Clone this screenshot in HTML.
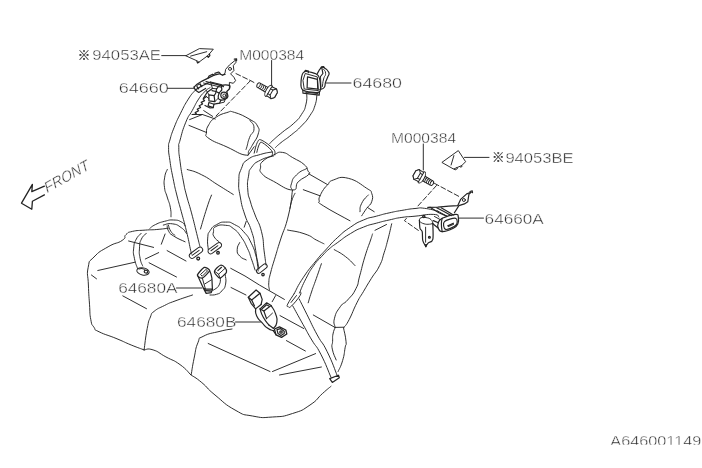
<!DOCTYPE html>
<html lang="en">
<head>
<meta charset="utf-8">
<title>Rear seat belt diagram A646001149</title>
<style>
html,body{margin:0;padding:0;background:#fff;}
body{width:702px;height:468px;overflow:hidden;font-family:"Liberation Sans",sans-serif;}
svg{display:block;filter:grayscale(1);}
svg path,svg line,svg circle,svg ellipse,svg polygon,svg polyline,svg rect.o{fill:none;stroke:#242424;stroke-width:.95;stroke-linecap:round;stroke-linejoin:round;}
svg .w{fill:#fff;}
svg .d{stroke-dasharray:5 2.5;}
svg .h{stroke-width:1.2;}
svg .k{stroke-width:1.3;stroke:#222;}
svg .t{stroke-width:.7;stroke:#444;}
svg text{font-family:"Liberation Sans",sans-serif;font-size:14px;fill:#2c2c2c;stroke:#fff;stroke-width:.4px;}
</style>
</head>
<body>
<svg width="702" height="468" viewBox="0 0 702 468">
<rect x="0" y="0" width="702" height="468" fill="#fff" stroke="none"/>
<text x="77.8" y="60.3" style="font-family:'Liberation Sans','Noto Sans CJK JP',sans-serif;font-size:12.5px;stroke:#3a3a3a;stroke-width:.25px;fill:#3a3a3a">※</text>
<text x="92.3" y="60.2" textLength="68.7" lengthAdjust="spacingAndGlyphs">94053AE</text>
<text x="118.8" y="93" textLength="50" lengthAdjust="spacingAndGlyphs">64660</text>
<text x="239.2" y="59.8" textLength="65" lengthAdjust="spacingAndGlyphs">M000384</text>
<text x="352.5" y="88.2" textLength="49.5" lengthAdjust="spacingAndGlyphs">64680</text>
<text x="391" y="142.7" textLength="65.1" lengthAdjust="spacingAndGlyphs">M000384</text>
<text x="492" y="162.3" style="font-family:'Liberation Sans','Noto Sans CJK JP',sans-serif;font-size:12.5px;stroke:#3a3a3a;stroke-width:.25px;fill:#3a3a3a">※</text>
<text x="505.4" y="162.5" textLength="68.3" lengthAdjust="spacingAndGlyphs">94053BE</text>
<text x="484.6" y="223.5" textLength="59.2" lengthAdjust="spacingAndGlyphs">64660A</text>
<text x="118.2" y="293.3" textLength="59.3" lengthAdjust="spacingAndGlyphs">64680A</text>
<text x="177" y="327.3" textLength="59.4" lengthAdjust="spacingAndGlyphs">64680B</text>
<clipPath id="c"><rect x="600" y="420" width="102" height="24.6"/></clipPath>
<text x="610.3" y="446.2" textLength="91" lengthAdjust="spacingAndGlyphs" clip-path="url(#c)">A646001149</text>
<g transform="translate(46.6 193.4) rotate(-29.2) skewX(-14)"><text x="0" y="0" style="font-size:15px" textLength="49.5" lengthAdjust="spacingAndGlyphs">FRONT</text></g>
<path class="k" d="M44.4 186.2L31.8 191.7L32.4 184.4L21.5 203.2L31.8 209.2L32.4 201.3L44.4 194.9"/>
<path d="M161.7 55.6L186 55.6"/>
<path d="M167.5 88.3L194 88.3"/>
<path d="M271.6 60.5L271.6 86.2"/>
<path d="M326.3 83L351 83"/>
<path d="M423.3 144L423.3 170"/>
<path d="M464.5 157.4L489 157.4"/>
<path d="M458.5 218.1L483.5 218.1"/>
<path d="M176.5 288L201.7 288"/>
<path d="M235.5 322L260.5 322"/>
<path d="M186.1 55.6L199.4 48.6L213.3 49.2L209.4 53.9L207.2 56.1L198.9 62.2L197.6 61.2Z"/>
<path d="M190.6 56.1L206.7 51.7"/>
<path class="h" d="M207.2 56.1L208.3 57.3L209.9 55.7L209.4 53.9"/>
<path class="h" d="M198.9 62.2L197.6 63L196.9 61.6"/>
<path d="M442.2 162.2L458.3 150.6L465.6 161.7L461.7 165.6L453.9 168.9Z"/>
<path d="M453.9 155.6L451.1 165"/>
<path d="M453.9 168.9L455 170L457.5 168.6L456.8 167.7"/>
<path d="M459.8 166.4L460.6 167.3L462.3 166.2L461.7 165.6"/>
<g transform="translate(271.8 92.7) rotate(29.7) scale(1 1)"><path class="w" d="M-16 -2.4L-5 -2.7L-5 2.7L-16 2.4Q-17.6 0 -16 -2.4Z"/><path d="M-14.4 -2.6Q-13 0 -14.4 2.6"/><path d="M-12.4 -2.6Q-11 0 -12.4 2.6"/><path d="M-10.4 -2.6Q-9 0 -10.4 2.6"/><path d="M-8.4 -2.6Q-7 0 -8.4 2.6"/><path d="M-6.4 -2.6Q-5 0 -6.4 2.6"/><ellipse class="w" cx="-3.6" cy="0" rx="2.6" ry="6.3"/><path class="w" d="M-3 -5.2L2.4 -5.6L4.9 -2.9L4.9 2.9L2.4 5.6L-3 5.2Z"/><path class="w" d="M2.2 -5.6L4.7 -2.9L4.7 2.9L2.2 5.6L-.3 2.9L-.3 -2.9Z"/><path d="M-3 -2.7L-.3 -2.9M-3 2.7L-.3 2.9"/></g>
<g transform="translate(418.6 175.6) rotate(29.7) scale(-1 1)"><path class="w" d="M-16 -2.4L-5 -2.7L-5 2.7L-16 2.4Q-17.6 0 -16 -2.4Z"/><path d="M-14.4 -2.6Q-13 0 -14.4 2.6"/><path d="M-12.4 -2.6Q-11 0 -12.4 2.6"/><path d="M-10.4 -2.6Q-9 0 -10.4 2.6"/><path d="M-8.4 -2.6Q-7 0 -8.4 2.6"/><path d="M-6.4 -2.6Q-5 0 -6.4 2.6"/><ellipse class="w" cx="-3.6" cy="0" rx="2.6" ry="6.3"/><path class="w" d="M-3 -5.2L2.4 -5.6L4.9 -2.9L4.9 2.9L2.4 5.6L-3 5.2Z"/><path class="w" d="M2.2 -5.6L4.7 -2.9L4.7 2.9L2.2 5.6L-.3 2.9L-.3 -2.9Z"/><path d="M-3 -2.7L-.3 -2.9M-3 2.7L-.3 2.9"/></g>
<path class="d" d="M236 73.6L250.5 80.6L256 83.6"/>
<path class="d" d="M250.5 80.6L216 116"/>
<path class="d" d="M434.4 183.3L460 197"/>
<path class="d" d="M436.5 185.5L417.2 206.8"/>
<path class="d" d="M406.4 218.4L404.4 220.6L418.5 230.5"/>
<path d="M206.5 132.4C206.4 128.7 206.5 128.6 208.8 124.7C211.1 120.8 210.5 120.9 215.3 117.7C220.1 114.5 221.7 114 226.8 112.6C231.9 111.2 228.3 110.6 234.5 112.4C240.7 114.2 243.9 115.9 250 119.5C256.1 123.1 255.3 122.1 257.5 126C259.7 129.9 259.4 129.2 258.2 134C257 138.8 255.5 139.6 253 144C250.5 148.4 251.1 147.6 249 150.5C246.9 153.4 250.9 155.9 245 155C239.1 154.1 236.6 151.4 227 147C217.4 142.6 214.5 142.4 209 138.5C203.5 134.6 206.6 136.1 206.5 132.4Z"/>
<path d="M250 120.5C251.3 123.2 254.1 122.9 254 128.5C253.9 134.1 251.9 131.4 249.6 137.4C247.3 143.4 248.2 142.4 247 146.4C245.8 150.4 246.3 148.5 246 149.5"/>
<path d="M189.6 119.6L202.4 114.5L215.3 119"/>
<path d="M189 125.4L206.3 132.4"/>
<path d="M262.6 161.4C266 158.1 268.2 157.4 273.5 155C278.8 152.6 277.3 151.7 282.4 152.4C287.5 153.1 286.9 154.3 292.7 157.6C298.5 160.9 300.1 161 304.2 164.6C308.3 168.2 306.8 168.4 308 171C309.2 173.6 311.3 171.6 308.7 174.5C306.1 177.4 302.6 177.6 298.3 181.7C294 185.8 299.1 190.1 292.5 190C285.9 189.9 281.7 185.7 273.5 181.3C265.3 176.9 265.3 177.4 261.9 173.6C258.5 169.8 260.4 170.5 260.6 167.2C260.8 163.9 259.2 164.7 262.6 161.4Z"/>
<path d="M306.8 168.5C303.4 170.6 301.6 169.8 296.5 174.9C291.4 180 293 179.1 291.4 183.8C289.8 188.5 291.5 187.3 291.6 189"/>
<path d="M254.2 146.7L247.8 155.6"/>
<path d="M308.7 173.8L327.5 184.6"/>
<path d="M303.3 189.7L320 195.8"/>
<path d="M295 193.3C294 195.5 293.7 195 292 200C290.3 205 290.7 205.5 290 208.3"/>
<path d="M320 195.8C320.9 194.1 321.5 192.4 323.5 189.5C325.5 186.6 324.9 187.5 327.5 185C330.1 182.5 327.8 181.8 333.3 180C338.8 178.2 339.4 176.1 348.3 178.3C357.2 180.5 360.5 184.3 366.7 188.3C372.9 192.3 370.4 189.7 371.7 193.3C373 196.9 373 197.7 371.7 201.7C370.4 205.7 369.4 204.5 366.7 208.3C364 212.1 363 213.8 361.7 215.8"/>
<path d="M320 195.8C319.8 197.1 318.3 198.1 319.2 200.8C320.1 203.5 315.1 200.5 323.3 205.8C331.5 211.1 342.9 216.8 350 220.8"/>
<path d="M368.3 195C366.1 197.8 364.5 197.7 361.7 203.3C358.9 208.9 360.6 208.9 360 211.7"/>
<path d="M367.5 207.5L374.2 211.7"/>
<path d="M167.3 169.5C166.5 171.8 165.5 171.8 164.7 177.2C163.9 182.6 163.8 181.5 164.5 187.4C165.2 193.3 165.4 190.9 167.2 197C169 203.1 169.3 201.9 170.4 207.8C171.5 213.7 170.8 214.1 171 216.8"/>
<path d="M168.3 225C169.2 227.1 168.7 228 170.9 231.4C173.1 234.8 173.6 234 175 235.3"/>
<path d="M187.2 169.5C191.4 171 192.1 170 201.3 174.6C210.5 179.2 208.3 178.9 217.9 184.9C227.5 190.9 228.7 191.6 233.3 194.5"/>
<path d="M211.5 195.1C210.1 198.9 210.2 197.6 206.9 207.8C203.6 218 202.4 222.6 200.5 229"/>
<path d="M292.5 190C291.3 197.5 292.1 200 288.5 215C284.9 230 284.4 227.5 280.4 240C276.4 252.5 278.2 247.1 275.3 256.7C272.4 266.3 272.8 264.3 270.8 272C268.9 279.7 269.2 276.9 268.8 282.3C268.4 287.7 269.3 287.7 269.5 290"/>
<path d="M287.5 230C292.8 231.2 296.4 231 305 234C313.6 237 310.6 237.1 316.3 240C322 242.9 321.7 242.7 324 243.8"/>
<path d="M334.2 249.6C337.6 251.7 339.4 251.9 345.6 256.7C351.8 261.5 352.2 262.9 355 265.6"/>
<path d="M391.7 223.8C390.5 228.6 390.1 231.2 387.8 239.9C385.5 248.6 386.6 245.1 384.1 252.8C381.6 260.5 383.4 257.9 379.6 265.6C375.8 273.3 376.1 270.8 371.3 278.5C366.5 286.2 367.9 284 363.6 291.3C359.3 298.6 361.2 294.3 356.9 302.8C352.6 311.3 353 312.2 349.2 319.5C345.4 326.8 345.6 324.9 344.1 327.2"/>
<path d="M372.5 234C371.9 235.8 372.9 233.2 370.6 240C368.3 246.8 368.2 245.9 364.9 256.7C361.6 267.5 362.4 266.3 359.7 275.9C357 285.5 359.5 281.5 355.9 288.7C352.3 295.9 352.3 294.6 347.6 300C342.9 305.4 344.2 301.2 340.3 306.7C336.4 312.2 336.1 312.1 334.5 318.2C332.9 324.3 334.9 324.5 335.1 327.2"/>
<path d="M375 230.3L386.5 224.5"/>
<path d="M321.4 263.7C319.7 268.6 319.6 269.1 316.3 278.5C313 287.9 314.2 283.9 311.5 292C308.8 300.1 309.3 299.2 308.2 302.8"/>
<path d="M335.1 327.4L344.1 327.2"/>
<path d="M335.1 327.5C334.5 329.4 333.8 329.9 333 334C332.2 338.1 332.8 336.8 332.6 341.3C332.4 345.8 331.2 343.5 332.3 349.1C333.4 354.7 335 356.7 336.2 360"/>
<path d="M343.5 327.8C344.2 331.9 345.5 335.3 346 341.3C346.5 347.3 346.1 342 345.1 347.8C344.1 353.6 344.7 353.5 342.6 360.6C340.5 367.7 339.5 368.2 338.1 371.5"/>
<path d="M313.3 315L335.1 327.5"/>
<path d="M168.3 228.2C164.9 228.6 163.7 228.9 156.8 229.5C149.9 230.1 152.6 229.5 145.3 230.1C138 230.7 138.2 230.1 132.4 231.4C126.6 232.8 129.1 231.9 126 234.6C122.9 237.3 127.6 236.7 122.2 240.4C116.8 244.1 116.6 241.8 108.1 246.8C99.6 251.8 100 250.8 94 257C88 263.1 89.9 258.9 88.2 267.3C86.5 275.7 88 273.9 88.4 285C88.8 296.1 88.8 293.8 89.5 304.2C90.2 314.6 89.5 312.7 90.8 319.6C92.1 326.5 91.5 323.6 94 327.3C96.5 331 92.2 328.4 99.1 331.8C106 335.2 107.4 334.8 117 338.8C126.6 342.8 123.1 341.7 131.2 345C139.3 348.3 140.2 348.4 144.1 349.9"/>
<path d="M144.1 349.9C146.8 349.9 146.6 347.8 153.1 349.9C159.6 352 157.8 352.5 165.9 356.9C174 361.3 172.5 359.2 180 364.6C187.5 370 187.6 371.8 190.9 374.9"/>
<path d="M190.9 374.9C194.2 377.2 194.6 376.6 201.8 382.6C209 388.6 205 386.8 215 395C225 403.2 223.8 403.7 235 410C246.2 416.3 241.2 413.9 252.5 416C263.8 418.1 260.5 417.8 272.5 417C284.5 416.2 281.2 417.1 292.5 413.5C303.8 409.9 301 411 310 405C319 399 316.2 399.1 322.5 393.5C328.8 387.9 328.4 388.5 331 386.3"/>
<path d="M149.9 228.3C151.6 227.2 151.2 226.6 155.6 224.5C160 222.4 159.2 222.7 164.6 221.3C170 220 168.6 219.8 173.6 220C178.6 220.2 177.9 220.2 181.3 221.9C184.8 223.6 184 224.6 185.1 225.8"/>
<path d="M163.3 225.1C166 224.7 166.9 223 172.3 223.8C177.7 224.6 177.1 224.8 181.3 227.7C185.5 230.6 184.9 231.8 186.4 233.5"/>
<path d="M167.2 225.8C167.6 227.3 166.6 227.8 168.5 230.9C170.4 234 168.6 232.7 173.6 236C178.6 239.3 181.7 240.1 185.1 241.8"/>
<path d="M144.1 349.9C145 343.5 145.3 338.5 147.2 328.6C149.1 318.7 148.3 322.2 150.4 317C152.5 311.8 150 314.8 154.2 311.3C158.4 307.9 158.3 308.6 164.5 305.5C170.7 302.4 166.6 304.1 175 301C183.4 297.9 187.2 296.8 192.5 295"/>
<path d="M191.2 374.6C192.1 369.7 192.1 367.7 194.1 358.2C196.1 348.7 195.2 349.3 197.9 342.8C200.6 336.3 196.5 339.8 203.1 336.4C209.7 332.9 211.3 333.5 220 331.3C228.7 329.1 228.4 329.7 232 329"/>
<path d="M122.8 295.9L146.5 308.7"/>
<path d="M97.8 270.5L135 262.2"/>
<path d="M128.6 241L153.6 247.4"/>
<path d="M145.3 259L158.7 252.6"/>
<path d="M149.1 262.8L176.5 277"/>
<path d="M167.1 250.6L186 261"/>
<path d="M165.1 234L161.3 244.2"/>
<path d="M91.4 275L96.5 278.8"/>
<path d="M208.2 343.5L270 371.5"/>
<path d="M272.5 371.5L315.6 353.6"/>
<path d="M279.5 375L321.4 367"/>
<path d="M231 287.5L246 295"/>
<path d="M280 315.6L303.7 328.5"/>
<path d="M286.4 340.6L305.4 351"/>
<path d="M246.2 221.4L244.2 227.2"/>
<path d="M230.7 268.3L245 276L259.4 285L284.4 299.4"/>
<path d="M275.6 295.6L272.2 301.7"/>
<path d="M239.7 242.6C238.9 244.7 237.2 245.6 237.2 249.6C237.2 253.6 237 252.9 239.7 256C242.4 259.1 244.2 258.7 246.2 259.9"/>
<path d="M194.7 90.8C192.8 93.3 192.5 92.4 188.3 99.1C184.1 105.8 184.8 104.7 180.6 113.2C176.4 121.7 177.4 119.3 174.2 127.3C171 135.3 171.6 133.9 169.9 140C168.2 146.1 168.6 141.5 168.6 147.7C168.6 153.8 168.6 151.3 169.9 160.5C171.2 169.7 171 168.2 173.1 178.5C175.2 188.8 174.3 185 176.8 195C179.3 205 178.4 200.9 181.3 211.7C184.2 222.5 183.7 219.8 186.4 230.9C189.1 242 188.8 241.9 190.3 248.8C191.8 255.7 191.1 252.4 191.5 254"/>
<path d="M210.1 87.6C208.6 88.7 208.4 88 205 91.4C201.6 94.9 202.4 93.3 198.6 99.1C194.8 104.9 196 103.7 192.2 110.6C188.4 117.5 189.4 113.4 185.8 122.2C182.2 131 182.2 132.3 180.1 140C178 147.7 178.8 141.2 178.8 147.7C178.8 154.2 178.8 151.8 180.1 161.8C181.4 171.8 181.4 171 183.3 181C185.2 191 183.9 185.4 186.4 195C188.9 204.6 188.4 201.3 191.5 212.9C194.6 224.5 194.2 223.5 196.7 233.5C199.2 243.5 198.9 242.5 199.9 246.3"/>
<g transform="translate(196 252.8) rotate(-36)"><rect class="o w" x="-7.6" y="-2.7" width="15.2" height="5.4" rx="2.7"/><path d="M-4.6 -.2L4 -.2"/></g>
<circle class="k" cx="198.2" cy="258.6" r="1.4"/>
<path d="M306.7 92.6C306.5 96 307.6 97.6 306 104.1C304.4 110.6 305.2 108.6 301.5 114.4C297.8 120.2 299.6 117.9 293.8 123.3C288 128.7 288.4 127.3 282.3 132.3C276.2 137.3 277.1 136.6 273.3 140C269.5 143.4 270.6 142.7 269.5 143.8"/>
<path d="M316.9 95.1C316.3 98.2 317.1 99.2 315 105.4C312.9 111.6 313.9 109.4 309.9 115.6C305.8 121.8 307.1 120.1 301.5 125.9C295.9 131.7 297.4 129.9 291.3 134.9C285.2 139.9 285.7 138.8 281 142.6C276.3 146.4 277.1 146 275.5 147.5"/>
<path d="M254.2 153.1C254.8 150.9 255.9 144.8 257.4 142.2C258.9 139.6 258.7 138.9 261.9 140.3C265.1 141.7 270.9 146.3 273.5 149.2C276.1 152.1 274.5 153.8 274.7 155"/>
<path d="M256.8 152.4C257.3 150.7 258.2 146 259.4 144.1C260.6 142.2 260.2 141.5 262.6 142.8C265 144.1 269.6 148.1 271.5 150.5C273.4 152.9 272.1 154.1 272.2 155"/>
<path d="M272 152C268.6 152.7 267.9 152.2 260.6 154.4C253.3 156.7 253.6 155.3 247.8 159.5C242 163.7 244.1 162 241.4 168.5C238.7 175 239.1 172.8 238.8 181.3C238.5 189.9 238.5 186.9 240.3 197C242.1 207.1 241.6 205 244.9 215C248.2 225 248.2 220.8 251.3 230.4C254.4 240 253.2 236.2 255.1 247C257 257.8 256.8 259.1 257.7 266.3C258.6 273.5 257.9 269.6 258 271"/>
<path d="M273.5 156C269.6 157.2 267.1 156.7 260.6 160.1C254.1 163.5 255.3 162.4 251.7 167.2C248.1 172 249.7 169.4 248.5 176.2C247.3 183 247.2 182.3 247.8 190C248.4 197.7 248.3 194.5 250.5 202C252.7 209.5 251.8 206.1 255.1 215C258.4 223.9 258.8 220.9 261.5 231.7C264.2 242.5 262.8 240.9 264.1 250.9C265.5 260.9 265.4 260.8 266 265"/>
<g transform="translate(261.8 268.6) rotate(-38)"><rect class="o w" x="-6.2" y="-2.2" width="12.4" height="4.4" rx="2.2"/></g>
<circle class="k" cx="263" cy="274.6" r="1.2"/>
<path d="M141.4 233.3C139.9 235 138.6 234.7 136.3 239.1C134 243.5 134.3 242.3 133.7 248.1C133.1 253.9 133.2 252.2 134.4 258.3C135.6 264.5 136.6 265.5 137.6 268.6"/>
<path d="M146.5 233.3C145 235 143.5 234.7 141.4 239.1C139.3 243.5 139.9 242.3 139.5 248.1C139.1 253.9 139.1 252.9 140.1 258.3C141.1 263.7 141.9 263.7 142.7 266"/>
<g transform="translate(143 271.4) rotate(12)"><ellipse class="w" cx="0" cy="0" rx="6.3" ry="3.6"/><ellipse class="h" cx="3" cy="-.4" rx="1.8" ry="1.4"/><path d="M-4.5 -1.5Q-2 -3 1 -2.4"/></g>
<path d="M208.3 249.6C208.1 246.2 207.1 243.9 207.7 238.1C208.3 232.3 207.6 234.5 210.3 230.4C213 226.3 212.1 227.1 216.7 224.6C221.3 222.1 220.2 222.1 225.6 222.1C231 222.1 229.2 221.7 234.6 224.6C240 227.5 238.6 226.1 243.6 231.7C248.6 237.3 247.5 235.5 251.3 243.2C255.1 250.9 254.1 249.6 256.4 257.3C258.7 265 258.2 265.4 259 268.8"/>
<path d="M219.2 241.9C217.7 240.4 215.8 239.9 214.1 236.8C212.4 233.7 213 234.8 213.5 231.7C214 228.6 212.2 228.5 215.8 226.6C219.4 224.7 220.3 224.7 225.6 225.3C230.8 225.9 228.7 225.1 233.3 228.5C237.9 231.9 236.8 230.9 241 236.8C245.2 242.7 244.3 241.8 247.4 248.3C250.5 254.8 249 252.1 251.3 258.6C253.6 265.1 254 266.7 255.1 270.1"/>
<g transform="translate(214.8 248.2) rotate(-36)"><rect class="o w" x="-7.8" y="-2.6" width="15.6" height="5.2" rx="2.6"/><path d="M-4.6 -.2L4 -.2"/></g>
<circle class="k" cx="218" cy="252.8" r="1.3"/>
<path d="M437.8 211.1C433.8 210.3 431.2 209.1 424.4 208.3C417.6 207.5 421.8 207.9 415 208.5C408.2 209.1 409.7 209.1 401.9 210.4C394.1 211.7 396.8 211.2 389.1 212.9C381.4 214.6 384 214.1 376.3 216.2C368.6 218.3 371.2 216.7 363.5 220C355.8 223.3 358.3 221.9 350.6 227.1C342.9 232.3 345 230.7 337.8 237.3C330.6 243.9 332.9 242 326.5 249C320.1 256 323.2 252 316.3 260.5C309.4 269 310.2 267.2 303.5 277.2C296.8 287.2 296.9 288.8 294.1 293.8"/>
<path d="M438.9 217.2C437.2 216.4 440.5 214.7 433.3 214.4C426.1 214.1 424.4 215.3 415 216.2C405.6 217.1 409.7 216.3 401.9 217.4C394.1 218.5 396.8 218.3 389.1 220C381.4 221.7 384 221.1 376.3 223.2C368.6 225.3 371.2 224 363.5 227.1C355.8 230.2 358.3 228.9 350.6 233.5C342.9 238.1 344.2 237.8 337.8 242.4C331.4 247.1 334 244.7 329.1 249C324.2 253.3 326 251.7 321.4 256.7C316.8 261.7 318.3 259.1 313.7 265.6C309.1 272.1 310.3 270.3 306 278.5C301.7 286.7 301.4 288.6 299.5 293"/>
<path d="M294.1 293.8C292.6 296.2 289.1 301.1 287.7 304.1C286.3 307.1 287.4 306.3 288.3 306.7C289.2 307.1 288.8 308.5 291.5 306C294.2 303.5 297.8 299.1 299.9 295.8C302 292.5 300.4 292.9 300.5 292"/>
<path d="M296.5 295.5L291 302.5"/>
<path d="M292.8 306C295.9 311.6 297.4 314.4 303.1 324.6C308.8 334.8 306.5 331.1 311.8 340C317.1 348.9 315 343 320.8 354.2C326.6 365.4 327.9 370.4 331 377.3"/>
<path d="M299.2 299C301.5 303.6 301.5 303.6 306.9 314.4C312.3 325.2 311.1 323.7 317.2 334.9C323.3 346.1 321.1 339.4 327.2 351.7C333.3 364 334.3 368.7 337.4 376"/>
<path class="h" d="M329.7 378.6L338.5 375.2L339.3 377.8L332.3 382.4Z"/>
<path class="h" d="M304.5 71.7C306.8 71 316.2 72.8 318.2 75.5C320.2 78.2 321.6 89.9 319.5 91.8C317.4 93.7 305.3 91.5 302.8 90C300.3 88.5 300.9 83 301.1 80.6C301.3 78.2 302.2 72.4 304.5 71.7Z"/>
<path d="M305.6 73.6L317.3 76.9L318.4 90.6L304.2 89L303 80.8Z"/>
<path class="h" d="M307.5 76.8L317.4 79.4L317.8 89.2L307.1 87.9Z"/>
<path class="h" d="M304.5 71.7L305.5 70.3L308.5 71L308.3 72.6"/>
<path class="h" d="M317.4 73.4C318.3 72 319 69.7 320.8 68.2C322.6 66.7 322 66.7 324.2 67.8C326.4 68.9 328 70 328.9 72.5C329.8 75 328.5 74.6 327.6 77.2C326.7 79.8 326.4 79.7 325.5 82.4C324.6 85.1 325.7 85.6 324.2 87.5C322.7 89.4 321 89 319.9 89.6"/>
<path class="k" d="M320.8 68.2L321.4 66.9L323.6 66.6L324.2 67.8"/>
<path class="h" d="M321.8 67.6L322.9 73.5L320.5 76.5"/>
<path d="M323.6 69.5C324.3 70.8 325.6 70.3 325.6 73.5C325.6 76.7 324.7 74.7 323.6 79C322.5 83.3 322.8 84 322.4 86.5"/>
<path d="M320.5 76.5L321 88.8"/>
<path class="h" d="M302.8 90L303 93.2L319.2 95.2L319.5 91.8"/>
<path d="M305 92L318 93.6"/>
<path d="M235.6 60L229.4 65L225.6 69.4L225 73.3L222.6 75.1"/>
<path d="M235.6 60L236.1 62.2L233.3 65.6L233.9 70.6L230.6 73.9L233.9 77.2L235.6 80.6L233.3 83.3L229.4 82.4L229.4 85.4L229.4 88.8L226.9 91.4"/>
<path class="h" d="M234.3 59.2L236.6 58.8L236.6 60.6"/>
<circle cx="230" cy="68.9" r="1.5"/>
<path class="h" d="M194 87.1L197 84.2L202.1 81.1L208.1 78.1L214.1 75.1L219.2 73.8L222.6 75.1L225.2 74.3"/>
<path class="h" d="M194 87.1L195.3 90.1L202.1 85.8L210.6 82L220.9 84.5L223.5 86.7"/>
<path d="M197 85.4L200.4 83.7L201 85.6"/>
<path class="h" d="M208.1 78.1L209 76L212.6 74.2L214.1 75.1"/>
<path class="h" d="M214.8 73.4L218.6 72L220.2 73.4"/>
<path d="M203.5 83L221 87.2"/>
<path class="h" d="M206 81.6L222.5 85.8"/>
<path d="M210.6 82L212.4 88.4L216.6 88.8"/>
<path class="h" d="M221.8 85.4C223.1 84.7 228.1 84.8 229.4 85.4C230.7 86 229.8 87.8 229.4 88.8C229 89.8 227.2 90.1 226.9 91.4C226.7 92.7 228.2 95.2 227.9 96.5C227.6 97.8 226.4 98.7 225.2 99.3C224 99.9 222.1 100.3 220.9 100.1C219.8 99.9 218.6 99.4 218.3 98.2C218 97 218.6 94.5 219.2 93.1C219.8 91.7 221.4 91 221.8 89.7C222.2 88.4 220.5 86.1 221.8 85.4Z"/>
<circle class="h" cx="223.9" cy="95.2" r="3.1"/>
<circle cx="224.3" cy="95.5" r="1.5"/>
<path class="h" d="M219.2 93.1L216 91.5L212 90.6"/>
<path class="h" d="M216.6 88.8L218.8 86.2L221.8 85.4"/>
<path class="h" d="M216.6 88.8L215.6 93.5L214.1 95.6"/>
<path class="h" d="M220.9 100.1L219.6 103.2L214 104.2"/>
<path d="M225.2 99.3L224.2 102.2L219.6 103.2"/>
<path class="k" d="M197 86.6L198.6 88.8"/>
<path class="k" d="M200 84.4L201.8 86.6"/>
<path class="h" d="M195.3 90.1L198.8 92.4L205.6 88.4"/>
<path class="h" d="M203.4 98.2L207.2 92.2L212.4 88.4"/>
<path class="h" d="M208.9 94.8L214.1 95.6L214.9 101.6L208.9 100.8Z"/>
<path d="M214.9 101.6L218.3 98.2"/>
<path class="h" d="M208.9 102.5L214 104.2L213.2 107.6L208.1 105.9Z"/>
<path class="h" d="M205 105.5L210 108L213.2 107.6"/>
<path d="M203.7 110.6L212.7 116.4"/>
<path d="M206.4 90.5L208.9 94.8"/>
<path d="M206.3 96.5L208.9 98.6"/>
<path class="h" d="M206.3 96.5L203.2 99L204.6 100.6L201.2 102.4L202.6 104L199.2 105.8L200.6 107.4L197.2 109.2L198.6 110.8L195.2 112.6L196.4 114L192.2 114.5"/>
<path d="M192.2 114.5L202.4 114.5"/>
<path class="h" d="M471.1 192.2L466.7 193.9L460.6 199.4L457.8 205.6L448.9 206.1L437.8 207.2L427.8 207.4"/>
<path class="h" d="M471.1 192.2L468.9 194.4L467.8 201.7L464.4 203.9L458.9 205.6L454.4 212.8"/>
<circle cx="463.9" cy="200" r="1.5"/>
<path class="h" d="M470 191.5L472.2 190.8L472.5 192.6"/>
<path class="h" d="M438.3 222.8C439.1 220.8 438.7 220 442.2 218.3C445.7 216.6 452.4 214.6 455.6 214.4C458.8 214.2 457.9 215.3 458.3 217.2C458.7 219.1 458.8 221.7 457.8 223.9C456.8 226.1 456.4 226.7 453.3 228.3C450.2 229.9 445.2 231.7 442.2 231.7C439.2 231.7 439.1 230.1 438.3 228.3C437.5 226.5 437.5 224.8 438.3 222.8Z"/>
<path class="h" d="M444.4 221.7C446.1 219.8 453.7 217.8 455.6 218.3C457.6 218.9 457.8 223.2 456.1 225C454.4 226.8 447.6 230 445.6 229.4C443.7 228.8 442.7 223.5 444.4 221.7Z"/>
<path class="h" d="M442.2 218.3C441.9 220.2 441.4 219.5 441.4 224C441.4 228.5 441.9 229.1 442.2 231.7"/>
<path class="k" d="M447.8 225.8L453.3 223.3"/>
<path d="M448.4 226.6L453.6 224.3"/>
<path d="M437.8 211.1L446.7 216.1"/>
<path class="h" d="M430 207.2L438.9 212.8L446.7 216.1"/>
<path class="h" d="M436.7 207.8L444.4 211.7L451.1 215.6"/>
<path class="h" d="M441.1 207.8L448.9 212.2L453.3 215"/>
<path class="h" d="M433.3 220.6L438.3 222.8"/>
<path class="h" d="M432.2 223.3L437.8 227.8"/>
<path d="M434.5 216.5L440.2 219.6"/>
<path class="h" d="M419.4 220C419.5 221.4 419.5 226.4 420 228.3C420.5 230.2 421.7 229.6 422.2 231.7C422.7 233.8 422.2 238.1 422.8 240.6C423.4 243.1 425.3 245.4 425.8 246.4"/>
<path class="h" d="M432.8 223.3C432.8 226 433.6 236.2 432.8 239.4C432.1 242.7 429.5 241.6 428.3 242.8C427.1 244 426.2 245.8 425.8 246.4"/>
<path d="M419.4 220C419.8 219.4 419.2 218.4 421 217.8C422.8 217.2 423.3 217.1 426 217.6C428.7 218.1 429.2 218.1 431 219.6C432.8 221.1 432.3 222.3 432.8 223.3"/>
<path d="M419.6 221.5C420.8 222.1 421.4 223.1 424 223.8C426.6 224.5 427.2 224.3 429.5 224.2C431.8 224.1 431.9 223.5 432.8 223.3"/>
<path d="M425.6 227.2L425.6 242.2"/>
<circle class="k" cx="429.4" cy="237.2" r=".9"/>
<circle class="k" cx="423.8" cy="216.4" r="1.1"/>
<path class="k" d="M425.2 244.6L425.8 246.8L426.4 244.6"/>
<path class="h" d="M197.4 275.1C197.6 273.9 202.8 267.9 204.2 267.4C205.6 266.9 209.8 269.4 209.6 270.6C209.4 271.8 203.7 277.6 202.3 278.1C200.9 278.6 197.2 276.3 197.4 275.1Z"/>
<path d="M200.8 274.2L205.9 269.5L207.6 270.8L202.5 276Z"/>
<path class="h" d="M197.4 275.1L203.4 288.3"/>
<path d="M202.3 278.1L205.5 289.2"/>
<path class="h" d="M209.6 270.6L210.9 273.8L211.9 278.1L212.4 289.2"/>
<path d="M204.7 284L211.5 279.8"/>
<path class="k" d="M203.4 288.3L205.5 289.2L212.4 289.2L211.2 292.6L206.2 293.4Z"/>
<path class="k" d="M205.5 290.6L210.5 291"/>
<path class="h" d="M214.5 271.2C215.1 269.4 218.7 265.9 220.5 265.3C222.3 264.7 224.2 266.7 225.2 267.8C226.2 268.9 226.7 270.9 226.5 272.1C226.3 273.3 225 274.1 223.9 275.1C222.8 276.1 221.1 278 220 278.1C218.9 278.2 218 277 217.1 275.9C216.2 274.8 213.9 273 214.5 271.2Z"/>
<path d="M214.5 271.2L218.6 274.2L225.2 268.2"/>
<path d="M218.6 274.2L220 278.1"/>
<path class="h" d="M217.9 270.6L221.5 267.3"/>
<path d="M220.5 278.5C220.1 280.4 220.9 281.7 219.2 284.9C217.5 288.1 216.9 287.7 214.9 289.2C212.9 290.7 213.2 289.8 212.4 290"/>
<path d="M225.2 274.7C225.3 277.5 226.6 279.2 225.6 284.1C224.6 289 224.5 287.8 221.8 290.9C219.1 294 220.1 293.1 216.6 294.3C213.1 295.5 212 294.8 210 295"/>
<path class="h" d="M248.3 297.2L256.1 290L260 293.3L251.7 300Z"/>
<path class="h" d="M248.3 297.2L251.1 303.3L255.6 308.9"/>
<path class="h" d="M251.7 300L254.5 306"/>
<path class="h" d="M260 293.3L262.2 299.4L261.1 304.5"/>
<path class="h" d="M255.6 308.9L261.1 304.5"/>
<path class="h" d="M260 308.9L266.7 302.8L271.1 305.6L263.9 311.1Z"/>
<path class="h" d="M261.8 309L266.6 304.8L269.2 306.3"/>
<path class="h" d="M260 308.9C261.1 311.7 260.3 311.8 263.3 317.2C266.3 322.6 267 322.4 268.9 325"/>
<path class="h" d="M263.9 311.1L266.5 318.5"/>
<path class="h" d="M271.1 305.6C272.6 308.4 273.7 308.2 275.6 313.9C277.5 319.6 277.5 318 276.7 322.8C275.9 327.6 274.4 326.5 273.3 328.3"/>
<path class="h" d="M255.6 308.9C256 311.3 254.5 311.5 256.7 316.1C258.9 320.7 258.5 318.7 262.2 322.8C265.9 326.9 264.1 325.7 267.8 328.3C271.5 330.9 271.5 329.8 273.3 330.6"/>
<path class="h" d="M268.9 325L273.3 328.3"/>
<path class="k" d="M274.4 329L279.5 326.8L285.8 330L286.8 334L281.5 337.4L276 334.8Z"/>
<path class="h" d="M277 329.6L280.5 328.6L284.2 331.2L284.2 333.6L281 335.4L278 333.6Z"/>
<circle class="k" cx="281" cy="332" r="1.2"/>
<path class="h" d="M273.3 330.6L276 334.8"/>
<path d="M266.1 319.1L272.5 313.1"/>
</svg>
</body>
</html>
